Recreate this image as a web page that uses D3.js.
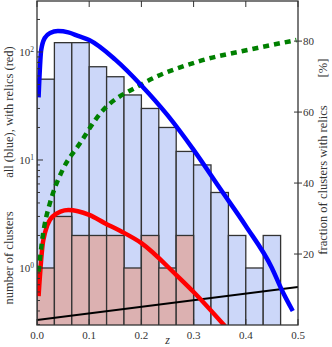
<!DOCTYPE html>
<html>
<head>
<meta charset="utf-8">
<script src="https://cdn.jsdelivr.net/npm/d3@7"></script>
<style>
  body { margin: 0; background: #fff; }
  svg text { font-family: "Liberation Serif", "Times New Roman", "DejaVu Serif", serif; fill: #333; }
</style>
</head>
<body>
<script>
// histogram bins (z from 0 to 0.4667, width 1/30)
var binStarts = [0, 1, 2, 3, 4, 5, 6, 7, 8, 9, 10, 11, 12, 13].map(function(i) { return i / 30; });
var allCounts = [56, 122, 122, 73, 59, 40, 30, 20, 12, 9, 5, 2, 1, 2];
var relicCounts = [1, 3, 2, 2, 0, 2, 1, 2, 1, 2, 0, 0, 0, 0];

// model curves (left axis)
var blueZ = [0.003, 0.008, 0.015, 0.025, 0.04, 0.06, 0.08, 0.1, 0.15, 0.2, 0.25, 0.3, 0.35, 0.4, 0.45, 0.468, 0.49];
var blueN = [38, 104, 135, 150, 156, 152, 140, 129, 85, 49, 26, 12.4, 5.5, 2.45, 1.0, 0.64, 0.4];
var redZ = [0.003, 0.012, 0.03, 0.06, 0.1, 0.13, 0.16, 0.2, 0.267, 0.3, 0.36];
var redN = [0.55, 1.8, 3.0, 3.44, 3.1, 2.6, 2.2, 1.7, 0.86, 0.6, 0.29];

// fraction (right axis, %)
var greenZ = [0.003, 0.01, 0.025, 0.031, 0.05, 0.081, 0.12, 0.2, 0.31, 0.41, 0.497];
var greenP = [15, 24, 34.5, 37.3, 44, 50.9, 59.4, 67.8, 74.3, 77.7, 80.3];
var blackZ = [0, 0.5];
var blackP = [1.4, 10.7];

var xTicks = [0, 0.1, 0.2, 0.3, 0.4, 0.5];
var yTicks = [1, 10, 100];
var pTicks = [20, 40, 60, 80];

var W = 332, H = 347;
var L = 37, R = 298, T = 1, B = 325;

var svg = d3.select("body").append("svg")
    .attr("width", W)
    .attr("height", H);

var x = d3.scaleLinear().domain([0, 0.5]).range([L, R]);
var y = d3.scaleLog().domain([0.2966, 296.5]).range([B, T]);
var p = d3.scaleLinear().domain([0, 91.3]).range([B, T]);

svg.append("defs").append("clipPath").attr("id", "clip")
  .append("rect").attr("x", L).attr("y", T).attr("width", R - L).attr("height", B - T);

var plot = svg.append("g").attr("clip-path", "url(#clip)");

// bars
plot.selectAll("rect.all")
    .data(allCounts)
  .enter().append("rect")
    .attr("x", function(d, i) { return x(binStarts[i]); })
    .attr("y", function(d) { return y(d); })
    .attr("width", x(1 / 30) - x(0))
    .attr("height", function(d) { return B - y(d) + 2; })
    .attr("fill", "#ccd7f9")
    .attr("stroke", "#333")
    .attr("stroke-width", 1.3);

plot.selectAll("rect.rel")
    .data(relicCounts)
  .enter().filter(function(d) { return d > 0; }).append("rect")
    .attr("x", function(d, i) { return x(binStarts[i]); })
    .attr("y", function(d) { return y(d); })
    .attr("width", x(1 / 30) - x(0))
    .attr("height", function(d) { return B - y(d) + 2; })
    .attr("fill", "#dcb1b1")
    .attr("stroke", "#333")
    .attr("stroke-width", 1.3);

var curve = d3.line().curve(d3.curveMonotoneX);

plot.append("path")
    .attr("d", curve(blackZ.map(function(z, i) { return [x(z), p(blackP[i])]; })))
    .attr("fill", "none").attr("stroke", "#000").attr("stroke-width", 2);

plot.append("path")
    .attr("d", curve(redZ.map(function(z, i) { return [x(z), y(redN[i])]; })))
    .attr("fill", "none").attr("stroke", "#ff0000").attr("stroke-width", 4.5);

plot.append("path")
    .attr("d", curve(greenZ.map(function(z, i) { return [x(z), p(greenP[i])]; })))
    .attr("fill", "none").attr("stroke", "#008000").attr("stroke-width", 4.5)
    .attr("stroke-dasharray", "6,5");

plot.append("path")
    .attr("d", curve(blueZ.map(function(z, i) { return [x(z), y(blueN[i])]; })))
    .attr("fill", "none").attr("stroke", "#0000ff").attr("stroke-width", 4.5);

// frame
svg.append("rect")
    .attr("x", L).attr("y", T).attr("width", R - L).attr("height", B - T)
    .attr("fill", "none").attr("stroke", "#333").attr("stroke-width", 1.3);

// x ticks (bottom and top, inward)
svg.selectAll("line.xt")
    .data(xTicks)
  .enter().append("line")
    .attr("x1", function(d) { return x(d); }).attr("x2", function(d) { return x(d); })
    .attr("y1", B).attr("y2", B - 6)
    .attr("stroke", "#333");
svg.selectAll("line.xtt")
    .data(xTicks)
  .enter().append("line")
    .attr("x1", function(d) { return x(d); }).attr("x2", function(d) { return x(d); })
    .attr("y1", T).attr("y2", T + 6)
    .attr("stroke", "#333");
svg.selectAll("text.xl")
    .data(xTicks)
  .enter().append("text")
    .attr("x", function(d) { return x(d); })
    .attr("y", B + 14)
    .attr("text-anchor", "middle")
    .attr("font-size", 11)
    .text(function(d) { return d3.format(".1f")(d); });

// left log ticks
var minor = [];
[0.1, 1, 10, 100].forEach(function(dec) {
  for (var k = 2; k <= 9; k++) {
    var v = dec * k;
    if (v > y.domain()[0] && v < y.domain()[1]) minor.push(v);
  }
});
svg.selectAll("line.ym")
    .data(minor)
  .enter().append("line")
    .attr("x1", L).attr("x2", L + 3)
    .attr("y1", function(d) { return y(d); }).attr("y2", function(d) { return y(d); })
    .attr("stroke", "#333");
svg.selectAll("line.yt")
    .data(yTicks)
  .enter().append("line")
    .attr("x1", L).attr("x2", L + 6)
    .attr("y1", function(d) { return y(d); }).attr("y2", function(d) { return y(d); })
    .attr("stroke", "#333");
var yl = svg.selectAll("text.yl")
    .data(yTicks)
  .enter().append("text")
    .attr("x", L - 3)
    .attr("y", function(d) { return y(d) + 4; })
    .attr("text-anchor", "end")
    .attr("font-size", 11);
yl.append("tspan").text("10");
yl.append("tspan").attr("font-size", 7.5).attr("dy", -4)
    .text(function(d) { return Math.round(Math.log10(d)); });

// right percent ticks
svg.selectAll("line.pt")
    .data(pTicks)
  .enter().append("line")
    .attr("x1", R - 4).attr("x2", R + 4)
    .attr("y1", function(d) { return p(d); }).attr("y2", function(d) { return p(d); })
    .attr("stroke", "#333");
svg.selectAll("text.pl")
    .data(pTicks)
  .enter().append("text")
    .attr("x", R + 5)
    .attr("y", function(d) { return p(d) + 4; })
    .attr("font-size", 11)
    .text(function(d) { return d; });

// axis titles
svg.append("text")
    .attr("x", (L + R) / 2).attr("y", 344)
    .attr("text-anchor", "middle")
    .attr("font-size", 12)
    .attr("font-style", "italic")
    .text("z");

svg.append("text")
    .attr("transform", "translate(13,112)rotate(-90)")
    .attr("text-anchor", "middle")
    .attr("font-size", 12.5)
    .text("all (blue), with relics (red)");
svg.append("text")
    .attr("transform", "translate(13,258)rotate(-90)")
    .attr("text-anchor", "middle")
    .attr("font-size", 12.5)
    .text("number of clusters");

svg.append("text")
    .attr("transform", "translate(327,180)rotate(-90)")
    .attr("text-anchor", "middle")
    .attr("font-size", 12.5)
    .text("fraction of clusters with relics");
svg.append("text")
    .attr("transform", "translate(327,68)rotate(-90)")
    .attr("text-anchor", "middle")
    .attr("font-size", 12.5)
    .text("[%]");
</script>
</body>
</html>
